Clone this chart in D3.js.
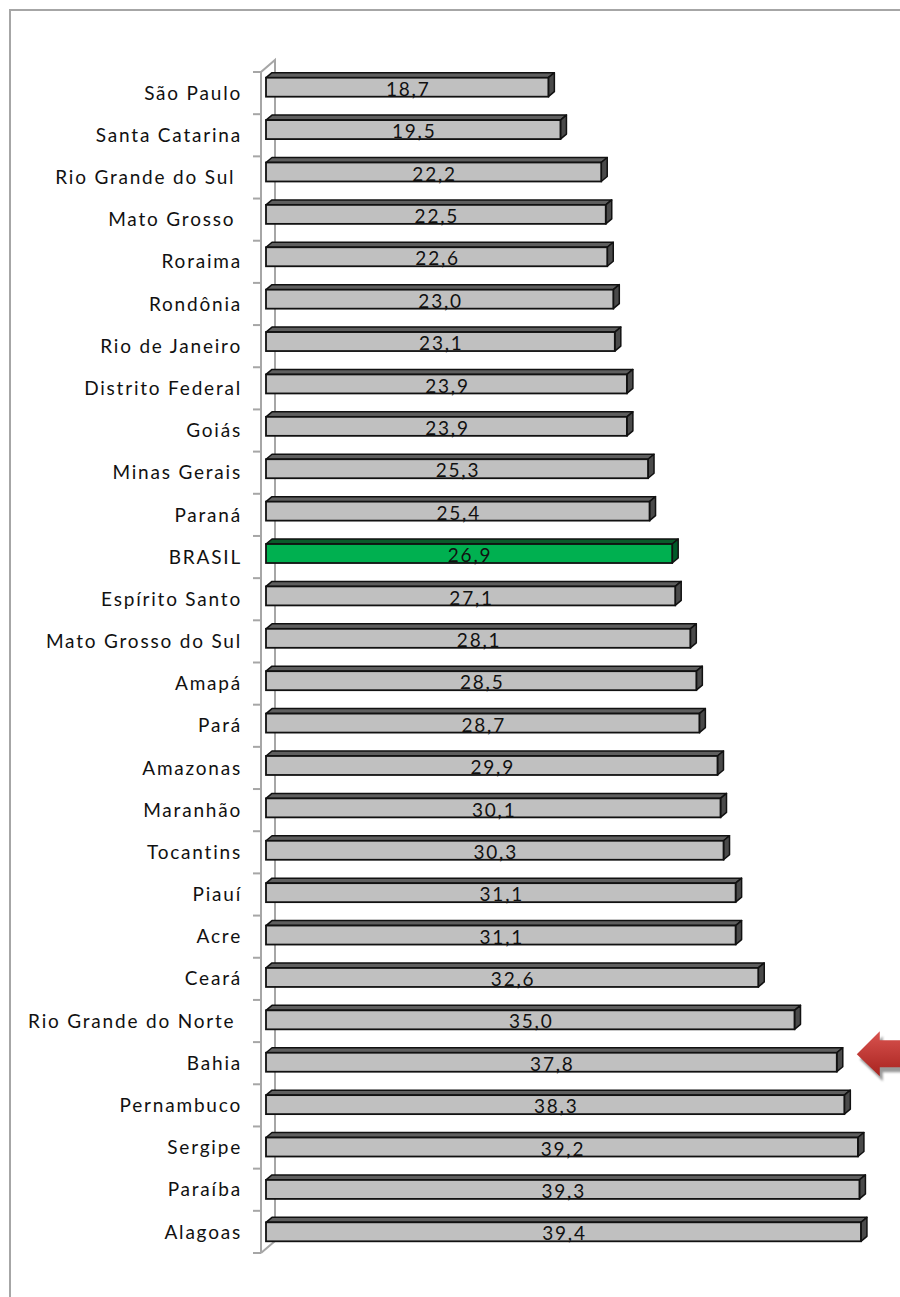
<!DOCTYPE html>
<html>
<head>
<meta charset="utf-8">
<script src="https://cdn.jsdelivr.net/npm/d3@7"></script>
<style>
  body { margin: 0; background: #fff; }
  svg text { font-family: Lato, "Open Sans", sans-serif; letter-spacing: 1.8px; }
  .cat { white-space: pre; }
</style>
</head>
<body>
<script>
var width = 900,
    height = 1297;

// data (top to bottom)
var states = ["São Paulo", "Santa Catarina", "Rio Grande do Sul ", "Mato Grosso ", "Roraima",
  "Rondônia", "Rio de Janeiro", "Distrito Federal", "Goiás", "Minas Gerais", "Paraná",
  "BRASIL", "Espírito Santo", "Mato Grosso do Sul", "Amapá", "Pará", "Amazonas",
  "Maranhão", "Tocantins", "Piauí", "Acre", "Ceará", "Rio Grande do Norte ", "Bahia",
  "Pernambuco", "Sergipe", "Paraíba", "Alagoas"];
var values = [18.7, 19.5, 22.2, 22.5, 22.6, 23.0, 23.1, 23.9, 23.9, 25.3, 25.4,
  26.9, 27.1, 28.1, 28.5, 28.7, 29.9, 30.1, 30.3, 31.1, 31.1, 32.6, 35.0, 37.8,
  38.3, 39.2, 39.3, 39.4];
var highlight = "BRASIL";
var arrowAt = "Bahia";

var data = states.map(function(s, i) { return { name: s, value: values[i] }; });

var svg = d3.select("body").append("svg")
    .attr("width", width)
    .attr("height", height);

var defs = svg.append("defs");
var grad = defs.append("linearGradient").attr("id", "arrowGrad")
    .attr("x1", 0).attr("y1", 0).attr("x2", 0).attr("y2", 1);
grad.append("stop").attr("offset", "0%").attr("stop-color", "#d9534f");
grad.append("stop").attr("offset", "100%").attr("stop-color", "#a8231f");
defs.append("filter").attr("id", "blur")
  .append("feGaussianBlur").attr("stdDeviation", 1.2);

// chart frame
svg.append("rect")
    .attr("x", 10).attr("y", 10)
    .attr("width", 1000).attr("height", 1400)
    .attr("fill", "none")
    .attr("stroke", "#a6a6a6")
    .attr("stroke-width", 2);

var x = d3.scaleLinear().domain([0, 40]).range([266, 266 + 40 * 15.1]);

// axis rows and bar rows differ a little (3D perspective)
var yAxis = d3.scaleBand().domain(states).range([72, 1253]);
var yBar = d3.scaleBand().domain(states).range([66, 1253]);

var dx = 6, dy = 5, barH = 19;
var axisFront = 261, axisBack = 275, axisTop = yAxis.range()[0], axisBottom = yAxis.range()[1];

// 3D axis wall
var axisG = svg.append("g")
    .attr("stroke", "#a6a6a6")
    .attr("stroke-width", 2)
    .attr("fill", "none");
axisG.append("path")
    .attr("d", "M" + axisFront + "," + axisBottom + "L" + axisFront + "," + axisTop +
      "L" + axisBack + "," + (axisTop - 12) + "L" + axisBack + "," + (axisBottom - 12) +
      "L" + axisFront + "," + axisBottom);

var tickYs = states.map(function(s) { return yAxis(s); }).concat([axisBottom]);
axisG.selectAll(".tick")
    .data(tickYs)
    .enter().append("line")
    .attr("x1", axisFront - 8).attr("x2", axisFront)
    .attr("y1", function(d) { return d; })
    .attr("y2", function(d) { return d; });

// category labels
svg.append("g").selectAll("text")
    .data(states)
    .enter().append("text")
    .attr("class", "cat")
    .attr("x", 242)
    .attr("y", function(d) { return yAxis(d) + yAxis.bandwidth() / 2; })
    .attr("dy", "0.35em")
    .attr("text-anchor", "end")
    .attr("font-size", 19)
    .attr("fill", "#111")
    .text(function(d) { return d; });

// bars
var bars = svg.append("g").selectAll("g.bar")
    .data(data)
    .enter().append("g")
    .attr("class", "bar");

function frontTop(d) { return yBar(d.name) + yBar.bandwidth() / 2 - barH / 2; }

bars.append("path")
    .attr("d", function(d) {
      var x0 = x(0), x1 = x(d.value), t = frontTop(d);
      return "M" + x0 + "," + t + "L" + (x0 + dx) + "," + (t - dy) + "L" + (x1 + dx) + "," + (t - dy) +
        "L" + x1 + "," + t + "Z";
    })
    .attr("fill", function(d) { return d.name === highlight ? "#0a5a2a" : "#5f5f5f"; })
    .attr("stroke", "#111")
    .attr("stroke-width", 1.5)
    .attr("stroke-linejoin", "round");

bars.append("path")
    .attr("d", function(d) {
      var x1 = x(d.value), t = frontTop(d);
      return "M" + x1 + "," + t + "L" + (x1 + dx) + "," + (t - dy) + "L" + (x1 + dx) + "," + (t - dy + barH) +
        "L" + x1 + "," + (t + barH) + "Z";
    })
    .attr("fill", function(d) { return d.name === highlight ? "#005a28" : "#4a4a4a"; })
    .attr("stroke", "#111")
    .attr("stroke-width", 1.5)
    .attr("stroke-linejoin", "round");

bars.append("rect")
    .attr("x", x(0))
    .attr("y", frontTop)
    .attr("width", function(d) { return x(d.value) - x(0); })
    .attr("height", barH)
    .attr("fill", function(d) { return d.name === highlight ? "#00b050" : "#c0c0c0"; })
    .attr("stroke", "#111")
    .attr("stroke-width", 1.8);

bars.append("text")
    .attr("x", function(d) { return (x(0) + x(d.value)) / 2 + 1; })
    .attr("y", function(d) { return frontTop(d) + barH / 2 + 2; })
    .attr("dy", "0.35em")
    .attr("text-anchor", "middle")
    .attr("font-size", 19)
    .attr("fill", "#111")
    .text(function(d) { return d3.format(".1f")(d.value).replace(".", ","); });

// red arrow pointing at one bar
var ay = yBar(arrowAt) + yBar.bandwidth() / 2 - 8;
var tip = x(values[states.indexOf(arrowAt)]) + dx + 14;
var arrowPts = [[tip, ay], [tip + 23, ay - 23], [tip + 23, ay - 14], [tip + 60, ay - 14],
  [tip + 60, ay + 13], [tip + 23, ay + 13], [tip + 23, ay + 22]];
var arrowLine = d3.line();
svg.append("path")
    .attr("d", arrowLine(arrowPts) + "Z")
    .attr("transform", "translate(3,5)")
    .attr("fill", "#9a9a9a")
    .attr("filter", "url(#blur)");
svg.append("path")
    .attr("d", arrowLine(arrowPts) + "Z")
    .attr("fill", "url(#arrowGrad)");
</script>
</body>
</html>
